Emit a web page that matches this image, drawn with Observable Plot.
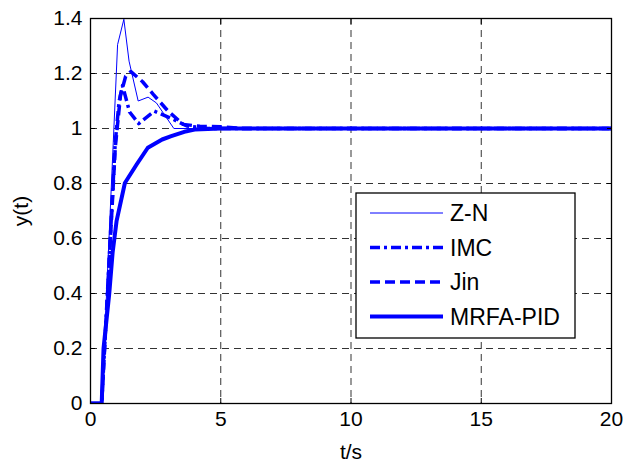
<!DOCTYPE html>
<html>
<head>
<meta charset="utf-8">
<script src="https://cdn.jsdelivr.net/npm/d3@7"></script>
<script src="https://cdn.jsdelivr.net/npm/@observablehq/plot@0.6"></script>
<style>
  html, body { margin: 0; padding: 0; background: #fff; }
</style>
</head>
<body>
<div id="chart"></div>
<script>
// ---- data ----
const seriesNames = ["Z-N", "IMC", "Jin", "MRFA-PID"];

const znT = [0, 0.43, 1.04, 1.28, 1.48, 1.83, 2.21, 2.53, 3.2, 4.0, 20];
const znY = [0, 0, 1.305, 1.397, 1.245, 1.10, 1.114, 1.093, 1.0, 1.0, 1.0];

const imcT = [0, 0.43, 0.95, 1.1, 1.23, 1.5, 1.85, 2.45, 3.05, 3.7, 4.5, 20];
const imcY = [0, 0, 0.95, 1.10, 1.156, 1.06, 1.018, 1.063, 1.039, 1.009, 1.0, 1.0];

const jinT = [0, 0.43, 0.95, 1.15, 1.35, 1.55, 2.0, 2.41, 2.98, 3.56, 4.2, 5.0, 5.8, 20];
const jinY = [0, 0, 0.93, 1.12, 1.19, 1.207, 1.17, 1.124, 1.063, 1.015, 1.008, 1.006, 1.0, 1.0];

const mrfaT = [0, 0.43, 0.5, 0.72, 0.85, 1.0, 1.32, 1.77, 2.2, 2.75, 3.1, 3.6, 4.0, 5.0, 20];
const mrfaY = [0, 0, 0.2, 0.40, 0.55, 0.663, 0.802, 0.869, 0.93, 0.96, 0.972, 0.988, 0.996, 1.0, 1.0];

const xTicks = [0, 5, 10, 15, 20];
const yTicks = [0, 0.2, 0.4, 0.6, 0.8, 1, 1.2, 1.4];

// ---- styles ----
const blue = "#0000ff";
const styles = {
  "Z-N":      {strokeWidth: 1,   dash: null},
  "IMC":      {strokeWidth: 3.5, dash: "10,4,3,4"},
  "Jin":      {strokeWidth: 3.5, dash: "10,5"},
  "MRFA-PID": {strokeWidth: 4,   dash: null}
};

const toRows = (T, Y) => T.map((t, i) => ({t, y: Y[i]}));
const rows = {
  "Z-N": toRows(znT, znY),
  "IMC": toRows(imcT, imcY),
  "Jin": toRows(jinT, jinY),
  "MRFA-PID": toRows(mrfaT, mrfaY)
};

const lineMark = name => Plot.line(rows[name], {
  x: "t", y: "y", stroke: blue,
  strokeWidth: styles[name].strokeWidth,
  strokeDasharray: styles[name].dash,
  strokeLinejoin: "round",
  strokeLinecap: "butt",
  clip: true
});

const fmt = d => String(+(+d).toFixed(1));
const none = () => "";
const FS = 21;

const svg = Plot.plot({
  width: 631,
  height: 464,
  marginLeft: 90,
  marginRight: 20,
  marginTop: 18,
  marginBottom: 61,
  style: {fontFamily: "'Liberation Sans', Arial, Helvetica, sans-serif", fontSize: FS + "px", background: "#fff", color: "#000"},
  x: {domain: [0, 20]},
  y: {domain: [0, 1.4]},
  marks: [
    Plot.gridX(xTicks, {stroke: "#000", strokeOpacity: 0.8, strokeDasharray: "7,5", strokeWidth: 1}),
    Plot.gridY(yTicks, {stroke: "#000", strokeOpacity: 0.8, strokeDasharray: "7,5", strokeWidth: 1}),
    lineMark("Z-N"),
    lineMark("IMC"),
    lineMark("Jin"),
    lineMark("MRFA-PID"),
    // inward tick marks on all four sides
    Plot.axisX(xTicks, {anchor: "bottom", tickSize: -5, tickFormat: none, label: null}),
    Plot.axisX(xTicks, {anchor: "top", tickSize: -5, tickFormat: none, label: null}),
    Plot.axisY(yTicks, {anchor: "left", tickSize: -5, tickFormat: none, label: null}),
    Plot.axisY(yTicks, {anchor: "right", tickSize: -5, tickFormat: none, label: null}),
    Plot.frame({stroke: "#000", strokeWidth: 1.3}),
    Plot.axisX(xTicks, {tickSize: 0, tickPadding: 8, tickFormat: fmt, label: "t/s", labelAnchor: "center", labelOffset: 55, labelArrow: "none", fontSize: FS}),
    Plot.axisY(yTicks, {tickSize: 0, tickPadding: 8, tickFormat: fmt, label: "y(t)", labelAnchor: "center", labelOffset: 77, labelArrow: "none", fontSize: FS})
  ]
});

document.getElementById("chart").appendChild(svg);

// ---- legend ----
const g = d3.select(svg).append("g").attr("class", "legend");
const box = {x: 356, y: 193, w: 219, h: 145};
g.append("rect")
  .attr("x", box.x).attr("y", box.y).attr("width", box.w).attr("height", box.h)
  .attr("fill", "#fff").attr("stroke", "#000").attr("stroke-width", 1.3);
seriesNames.forEach((name, i) => {
  const yy = box.y + 20 + i * 34.5;
  g.append("line")
    .attr("x1", box.x + 14).attr("x2", box.x + 87)
    .attr("y1", yy).attr("y2", yy)
    .attr("stroke", blue)
    .attr("stroke-width", styles[name].strokeWidth)
    .attr("stroke-dasharray", styles[name].dash);
  g.append("text")
    .attr("x", box.x + 94).attr("y", yy)
    .attr("dy", "0.35em")
    .attr("text-anchor", "start")
    .attr("font-size", 23)
    .attr("fill", "#000")
    .text(name);
});
</script>
</body>
</html>
